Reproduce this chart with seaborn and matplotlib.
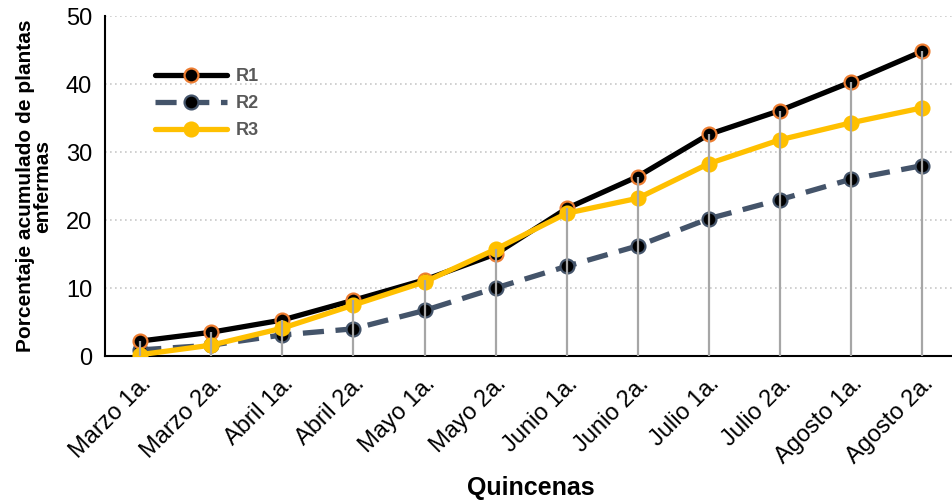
import numpy as np
import pandas as pd
import seaborn as sns
import matplotlib.pyplot as plt

# Data
quincenas = ["Marzo 1a.", "Marzo 2a.", "Abril 1a.", "Abril 2a.", "Mayo 1a.", "Mayo 2a.",
             "Junio 1a.", "Junio 2a.", "Julio 1a.", "Julio 2a.", "Agosto 1a.", "Agosto 2a."]
r1 = [2.2, 3.5, 5.3, 8.2, 11.2, 15.0, 21.7, 26.4, 32.6, 36.1, 40.3, 44.8]
r2 = [0.9, 1.6, 3.1, 4.0, 6.7, 10.0, 13.2, 16.2, 20.2, 23.0, 26.0, 28.0]
r3 = [0.2, 1.6, 4.1, 7.5, 10.9, 15.7, 21.0, 23.2, 28.3, 31.8, 34.3, 36.5]

sns.set_style("white")
plt.rcParams['font.family'] = ['Liberation Sans', 'DejaVu Sans']

fig = plt.figure(figsize=(9.52, 5.03), dpi=100)
ax = fig.add_axes([0.110, 0.2922, 0.8958, 0.6758])

x = np.arange(len(quincenas))

# horizontal dotted grid
for v in range(10, 51, 10):
    ax.axhline(v, color="#c8c8c8", lw=1.2, ls=(0, (1, 2)), zorder=0)

sns.lineplot(x=x, y=r1, ax=ax, color="black", lw=3.8, marker="o", markersize=10,
             markerfacecolor="black", markeredgecolor="#ED7D31", markeredgewidth=1.6,
             label="R1", zorder=3)
sns.lineplot(x=x, y=r2, ax=ax, color="#44546A", lw=3.8, marker="o", markersize=10,
             markerfacecolor="black", markeredgecolor="#44546A", markeredgewidth=1.6,
             label="R2", zorder=2)
ax.lines[-1].set_dashes([4, 2.2])
sns.lineplot(x=x, y=r3, ax=ax, color="#FFC000", lw=3.8, marker="o", markersize=10,
             markerfacecolor="#FFC000", markeredgecolor="#FFC000", markeredgewidth=1.6,
             label="R3", zorder=4)

# drop lines from the highest value to the axis
tops = np.max([r1, r2, r3], axis=0)
ax.vlines(x, 0, tops, color="#A6A6A6", lw=1.6, zorder=5)

ax.set_xlim(-0.5, 11.5)
ax.set_ylim(0, 50)
ax.set_yticks(range(0, 51, 10))
ax.set_xticks(x)
ax.set_xticklabels(quincenas, rotation=45, ha="right", rotation_mode="anchor")
ax.set_xticks(np.arange(-0.5, 12, 1), minor=True)
ax.tick_params(axis="x", which="major", length=0, labelsize=17, pad=12, labelcolor="black")
ax.tick_params(axis="x", which="minor", direction="in", length=5, width=1.5, color="black")
ax.tick_params(axis="y", direction="in", length=5, width=1.2, labelsize=17, pad=9,
               color="black", labelcolor="black")

for s in ["top", "right"]:
    ax.spines[s].set_visible(False)
for s in ["left", "bottom"]:
    ax.spines[s].set_color("black")
    ax.spines[s].set_linewidth(1.5)

ax.set_xlabel("Quincenas", fontsize=18, fontweight="bold", labelpad=6, color="black")
ax.set_ylabel("Porcentaje acumulado de plantas\nenfermas", fontsize=15, fontweight="bold",
              labelpad=10, linespacing=0.9, color="black")

leg = ax.legend(loc="upper left", bbox_to_anchor=(0.04, 0.895), frameon=False,
                handlelength=4.0, handletextpad=0.45, labelspacing=0.55,
                prop={"weight": "bold", "size": 13})
for t in leg.get_texts():
    t.set_color("#595959")

fig.savefig("out.png", dpi=100)
